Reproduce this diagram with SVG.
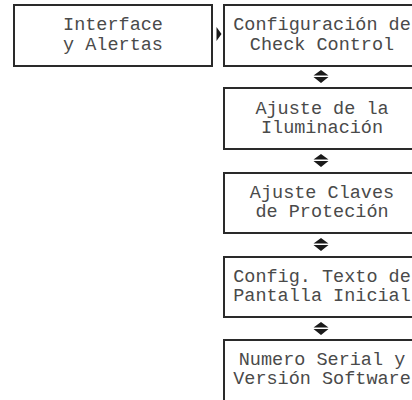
<svg xmlns="http://www.w3.org/2000/svg" width="412" height="400" viewBox="0 0 412 400">
<style>
.box{fill:#fff;stroke:#2a2a2a;stroke-width:2}
.t{font-family:"Liberation Mono","DejaVu Sans Mono",monospace;font-size:18.5px;fill:#4a4a4a;text-anchor:middle}
.ar{fill:#1a1a1a}
</style>
<defs>
<g id="dbl"><path class="ar" d="M-7.5,5.5 L0,0 L7.5,5.5 Z M-7.5,7 L7.5,7 L0,13 Z"/></g>
</defs>
<rect width="412" height="400" fill="#fff"/>
<g id="n0"><rect class="box" x="14" y="5" width="198" height="61"/><text class="t" x="113" y="30">Interface</text><text class="t" x="113" y="50">y Alertas</text></g>
<g id="n1"><rect class="box" x="224" y="5" width="198" height="61"/><text class="t" x="322" y="30">Configuración de</text><text class="t" x="322" y="50">Check Control</text></g>
<g id="n2"><rect class="box" x="224" y="88" width="198" height="61"/><text class="t" x="322" y="114">Ajuste de la</text><text class="t" x="322" y="133">Iluminación</text></g>
<g id="n3"><rect class="box" x="224" y="173" width="198" height="60"/><text class="t" x="322" y="198">Ajuste Claves</text><text class="t" x="322" y="217">de Proteción</text></g>
<g id="n4"><rect class="box" x="224" y="257" width="198" height="60"/><text class="t" x="322" y="282">Config. Texto de</text><text class="t" x="322" y="301">Pantalla Inicial</text></g>
<g id="n5"><rect class="box" x="224" y="340" width="198" height="70"/><text class="t" x="322" y="365">Numero Serial y</text><text class="t" x="322" y="384">Versión Software</text></g>
<g id="connectors">
<path class="ar" d="M216.5,27 L221.5,34 L216.5,41 Z"/>
<use href="#dbl" x="321" y="70"/>
<use href="#dbl" x="321" y="154"/>
<use href="#dbl" x="321" y="238"/>
<use href="#dbl" x="321" y="322"/>
</g>
</svg>
